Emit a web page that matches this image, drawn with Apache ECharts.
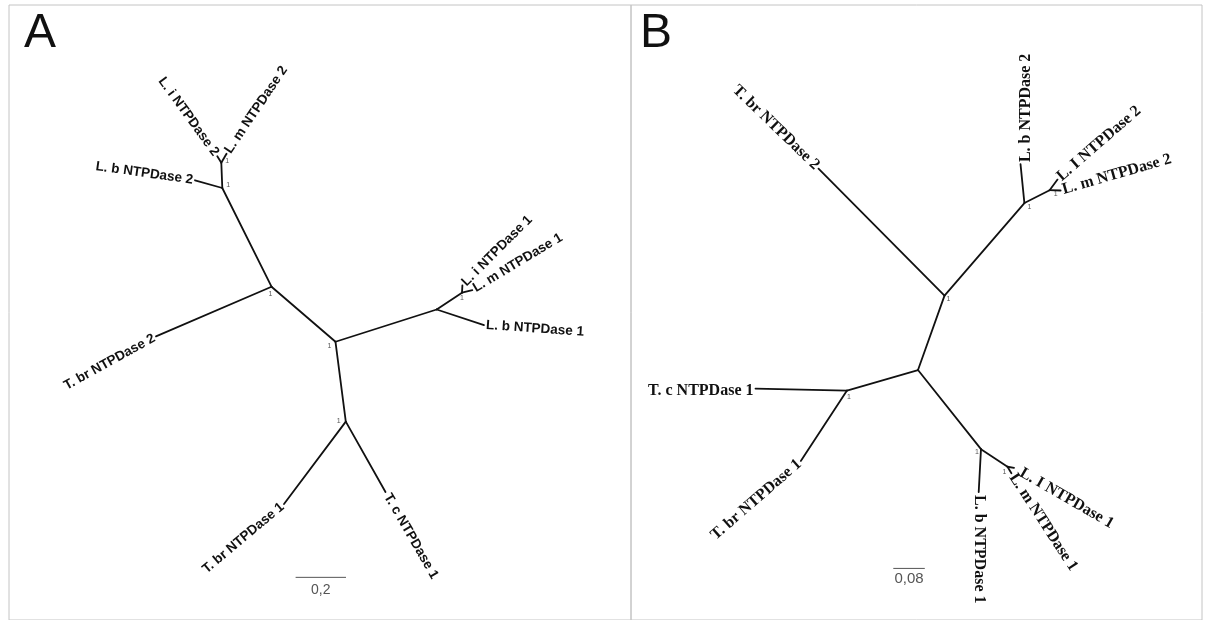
<!DOCTYPE html>
<html><head><meta charset="utf-8">
<script src="https://cdn.jsdelivr.net/npm/echarts@6/dist/echarts.min.js"></script>
<style>html,body{margin:0;padding:0;background:#fff}#chart{width:1210px;height:620px}</style>
</head><body><div id="chart"></div>
<script>
// ================= DATA (branch-length units) =================
// ---- Tree A ----
const nodeIdA = ['C1','N2','N3','N4','Li2','Lm2','Lb2','Tbr2','N5','N6','Li1','Lm1','Lb1','N7','Tbr1','Tc1'];
const nodeXA  = [1.2956,1.0417,0.8464,0.8425,0.8266,0.8631,0.7381,0.5833,1.6972,1.7976,1.7992,1.8385,1.8849,1.3365,1.0913,1.4940];
const nodeYA  = [1.1131,1.3333,1.7282,1.8294,1.8552,1.8651,1.7591,1.1349,1.2421,1.3095,1.3385,1.3194,1.1798,0.7937,0.4643,0.5119];
const edgesA  = [['C1','N2'],['N2','N3'],['N3','N4'],['N4','Li2'],['N4','Lm2'],['N3','Lb2'],['N2','Tbr2'],
                 ['C1','N5'],['N5','N6'],['N6','Li1'],['N6','Lm1'],['N5','Lb1'],['C1','N7'],['N7','Tbr1'],['N7','Tc1']];
const leafIdA   = ['Li2','Lm2','Lb2','Tbr2','Li1','Lm1','Lb1','Tbr1','Tc1'];
const leafTextA = ['L. i NTPDase 2','L. m NTPDase 2','L. b NTPDase 2','T. br NTPDase 2','L. i NTPDase 1',
                   'L. m NTPDase 1','L. b NTPDase 1','T. br NTPDase 1','T. c NTPDase 1'];
const supportNodeA = ['N4','N3','N2','C1','N7','N6'];
const supportA     = [1,1,1,1,1,1];
const scaleBarA    = 0.2;
const scaleTextA   = '0,2';

// ---- Tree B ----
const nodeIdB = ['B1','B2','Tbr2','B3','Lb2','B4','LI2','Lm2','B5','Tc1','Tbr1','B6','Lb1','B7','LI1','Lm1'];
const nodeXB  = [0.7284,0.7957,0.4759,0.9985,0.9886,1.0624,1.0825,1.0904,0.5482,0.3160,0.4310,0.8883,0.8825,0.9556,0.9721,0.9655];
const nodeYB  = [0.6396,0.8299,1.1548,1.0668,1.1665,1.0997,1.1269,1.0990,0.5871,0.5921,0.4071,0.4371,0.3274,0.3921,0.3891,0.3756];
const edgesB  = [['B1','B2'],['B2','Tbr2'],['B2','B3'],['B3','Lb2'],['B3','B4'],['B4','LI2'],['B4','Lm2'],
                 ['B1','B5'],['B5','Tc1'],['B5','Tbr1'],['B1','B6'],['B6','Lb1'],['B6','B7'],['B7','LI1'],['B7','Lm1']];
const leafIdB   = ['Tbr2','Lb2','LI2','Lm2','Tc1','Tbr1','Lb1','Lm1','LI1'];
const leafTextB = ['T. br NTPDase 2','L. b NTPDase 2','L. I NTPDase 2','L. m NTPDase 2','T. c NTPDase 1',
                   'T. br NTPDase 1','L. b NTPDase 1','L. m NTPDase 1','L. I NTPDase 1'];
const supportNodeB = ['B2','B3','B4','B5','B6','B7'];
const supportB     = [1,1,1,1,1,1];
const scaleBarB    = 0.08;
const scaleTextB   = '0,08';

// ================= LAYOUT / STYLE =================
const panelA = {letter:'A', left:9, top:5, width:622, height:620, pxPerUnit:252,
  font:'bold 13.5px "Liberation Sans", Arial, sans-serif',
  labelAngle:[-54,56,-8,29,45,31,-4,40,-60],
  labelGap:[2,2,2,2,2,2,2,2,3],
  labelShift:[0,0,0,0,0,0,0,0,0],
  supportOffset:[[6,-2],[6,-3],[-1,7],[-6,4],[-7,-1],[0,5]],
  scalePos:[1.1373,0.1706], scaleFont:'14px "Liberation Sans", Arial, sans-serif', scaleGap:13,
  letterLeft:24, letterTop:10};
const panelB = {letter:'B', left:631, top:5, width:571, height:620, pxPerUnit:394,
  font:'bold 16px "Liberation Serif", "Times New Roman", serif',
  labelAngle:[-44,90,41,16,0,41,-90,-57,-30],
  labelGap:[2,2,2,2,2,2,3,2,8],
  labelShift:[0,5,0,0,2,0,0,0,0],
  supportOffset:[[4,3],[5,4],[6,4],[2,7],[-4,3],[-3,5]],
  scalePos:[0.6657,0.1320], scaleFont:'15px "Liberation Sans", Arial, sans-serif', scaleGap:10,
  letterLeft:640, letterTop:10};

function buildPanel(idx, P, nodeId, nodeX, nodeY, edges, leafId, leafText, supNode, sup, barLen, barText) {
  const X = id => nodeX[nodeId.indexOf(id)];
  const Y = id => nodeY[nodeId.indexOf(id)];
  const parentOf = {};
  edges.forEach(e => { parentOf[e[1]] = e[0]; });
  const grid = {left:P.left, top:P.top, width:P.width, height:P.height, show:true,
    borderColor:'#c4c4c4', borderWidth:1, backgroundColor:'transparent'};
  const xAxis = {gridIndex:idx, type:'value', min:0, max:P.width/P.pxPerUnit, show:false};
  const yAxis = {gridIndex:idx, type:'value', min:0, max:P.height/P.pxPerUnit, show:false};
  const common = {xAxisIndex:idx, yAxisIndex:idx, silent:true, animation:false};
  const series = [];
  series.push(Object.assign({type:'custom', name:'branches'+P.letter,
    data: edges.map(e => [X(e[0]), Y(e[0]), X(e[1]), Y(e[1])]),
    encode:{x:[0,2], y:[1,3]},
    renderItem:(params, api) => {
      const p1 = api.coord([api.value(0), api.value(1)]);
      const p2 = api.coord([api.value(2), api.value(3)]);
      return {type:'line', shape:{x1:p1[0], y1:p1[1], x2:p2[0], y2:p2[1]},
        style:{stroke:'#111', lineWidth:1.8, lineCap:'round'}};
    }}, common));
  series.push(Object.assign({type:'custom', name:'labels'+P.letter,
    data: leafId.map(id => [X(id), Y(id), X(parentOf[id]), Y(parentOf[id])]),
    encode:{x:[0,2], y:[1,3]},
    renderItem:(params, api) => {
      const i = params.dataIndex;
      const tip = api.coord([api.value(0), api.value(1)]);
      const par = api.coord([api.value(2), api.value(3)]);
      const th = P.labelAngle[i] * Math.PI / 180;
      const r = [Math.cos(th), -Math.sin(th)];
      const n = [Math.sin(th), Math.cos(th)];
      const d = [tip[0]-par[0], tip[1]-par[1]];
      const start = r[0]*d[0] + r[1]*d[1] > 0;
      const s = start ? 1 : -1;
      const g = P.labelGap[i], sh = P.labelShift[i];
      return {type:'text', x: tip[0] + s*g*r[0] + sh*n[0], y: tip[1] + s*g*r[1] + sh*n[1], rotation: th,
        style:{text: leafText[i], font: P.font, fill:'#111',
          align: start ? 'left' : 'right', verticalAlign:'middle',
          textAlign: start ? 'left' : 'right', textVerticalAlign:'middle'}};
    }}, common));
  series.push(Object.assign({type:'custom', name:'support'+P.letter,
    data: supNode.map((id, k) => [X(id), Y(id), sup[k]]),
    encode:{x:0, y:1},
    renderItem:(params, api) => {
      const i = params.dataIndex;
      const p = api.coord([api.value(0), api.value(1)]);
      const o = P.supportOffset[i];
      return {type:'text', x:p[0]+o[0], y:p[1]+o[1],
        style:{text:String(api.value(2)), font:'7px "Liberation Sans", Arial, sans-serif', fill:'#555',
          align:'center', verticalAlign:'middle', textAlign:'center', textVerticalAlign:'middle'}};
    }}, common));
  series.push(Object.assign({type:'custom', name:'scale'+P.letter,
    data: [[P.scalePos[0], P.scalePos[1], barLen]],
    encode:{x:0, y:1},
    renderItem:(params, api) => {
      const a = api.coord([api.value(0), api.value(1)]);
      const b = api.coord([api.value(0) + api.value(2), api.value(1)]);
      return {type:'group', children:[
        {type:'line', shape:{x1:a[0], y1:a[1], x2:b[0], y2:b[1]}, style:{stroke:'#555', lineWidth:1}},
        {type:'text', x:(a[0]+b[0])/2, y:a[1] + P.scaleGap,
          style:{text:barText, font:P.scaleFont, fill:'#555', align:'center', verticalAlign:'middle',
            textAlign:'center', textVerticalAlign:'middle'}}
      ]};
    }}, common));
  const title = {text:P.letter, left:P.letterLeft, top:P.letterTop, padding:0,
    textStyle:{fontSize:48, fontWeight:'normal', fontFamily:'"Liberation Sans", Arial, sans-serif', color:'#111'}};
  return {grid, xAxis, yAxis, series, title};
}

const pa = buildPanel(0, panelA, nodeIdA, nodeXA, nodeYA, edgesA, leafIdA, leafTextA, supportNodeA, supportA, scaleBarA, scaleTextA);
const pb = buildPanel(1, panelB, nodeIdB, nodeXB, nodeYB, edgesB, leafIdB, leafTextB, supportNodeB, supportB, scaleBarB, scaleTextB);

const chart = echarts.init(document.getElementById('chart'), null, {renderer:'canvas'});
chart.setOption({
  backgroundColor:'#fff',
  animation:false,
  title:[pa.title, pb.title],
  grid:[pa.grid, pb.grid],
  xAxis:[pa.xAxis, pb.xAxis],
  yAxis:[pa.yAxis, pb.yAxis],
  series:[...pa.series, ...pb.series]
});
</script></body></html>
